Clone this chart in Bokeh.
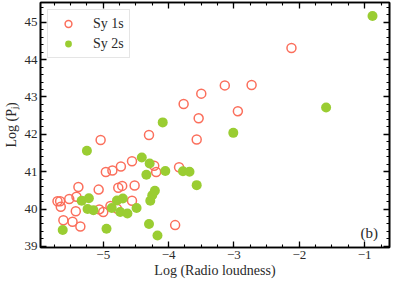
import numpy as np
from bokeh.plotting import figure
from bokeh.models import Range1d, LinearAxis, FixedTicker, Label, Legend, LegendItem
from bokeh.embed import file_html
from bokeh.resources import INLINE

# ---- data ----
sy1_x = [-5.04, -4.30, -4.96, -4.86, -4.73, -4.56, -4.22, -4.19, -3.84,
         -5.38, -5.07, -4.77, -4.71, -4.52, -5.52, -5.41, -5.70, -5.66,
         -5.65, -5.42, -5.06, -5.00, -4.89, -4.79, -4.56, -5.61, -5.47,
         -5.35, -3.90, -3.77, -3.57, -3.54, -3.50, -3.14, -2.73, -2.94, -2.12]
sy1_y = [41.85, 41.98, 40.99, 41.03, 41.14, 41.28, 41.16, 40.99, 41.12,
         40.59, 40.52, 40.57, 40.62, 40.63, 40.27, 40.33, 40.21, 40.21,
         40.06, 39.94, 39.99, 39.92, 40.08, 40.01, 40.22, 39.70, 39.66,
         39.53, 39.57, 42.81, 41.86, 42.43, 43.09, 43.31, 43.32, 42.62, 44.31]

sy2_x = [-5.25, -4.41, -4.29, -4.34, -4.05, -3.78, -3.68, -3.57, -5.33,
         -5.22, -5.24, -5.15, -4.87, -4.79, -4.70, -4.74, -4.63, -4.49,
         -4.28, -4.25, -4.21, -5.62, -4.95, -4.30, -4.17, -4.09, -3.01,
         -1.59, -0.88]
sy2_y = [41.56, 41.38, 41.22, 40.92, 41.02, 41.01, 41.00, 40.64, 40.22,
         40.29, 40.00, 39.97, 40.03, 40.23, 40.28, 39.92, 39.88, 40.03,
         40.22, 40.37, 40.49, 39.44, 39.47, 39.60, 39.29, 42.32, 42.04,
         42.72, 45.17]

series_labels = ["Sy 1s", "Sy 2s"]
x_ticks = [-5, -4, -3, -2, -1]
x_tick_labels = ["\u22125", "\u22124", "\u22123", "\u22122", "\u22121"]
y_ticks = [39, 40, 41, 42, 43, 44, 45]
y_tick_labels = ["39", "40", "41", "42", "43", "44", "45"]
x_label = "Log (Radio loudness)"
y_label = "Log (P\u2c7c)"
panel_tag = "(b)"

RED = "#fb6f5c"
GREEN = "#9acd32"
FONT = "Liberation Serif"
TXT = "#2a2a2a"

x_min, x_max = -5.96, -0.62
y_min, y_max = 38.97, 45.53

p = figure(width=393, height=280, output_backend="svg", toolbar_location=None,
           x_range=Range1d(x_min, x_max), y_range=Range1d(y_min, y_max),
           x_axis_location=None, y_axis_location=None,
           min_border_left=0, min_border_right=4, min_border_top=2, min_border_bottom=0)
p.grid.visible = False
p.outline_line_color = "black"
p.outline_line_width = 1.6
p.background_fill_color = "white"
p.border_fill_color = "white"

x_minor = list(np.arange(-6.0, -0.5, 0.25))
y_minor = list(np.round(np.arange(38.8, 45.8, 0.2), 2))


def make_axis(ticks, minor, labels, show_labels):
    ax = LinearAxis(ticker=FixedTicker(ticks=ticks, minor_ticks=minor))
    ax.major_tick_in = 6
    ax.major_tick_out = 0
    ax.minor_tick_in = 3
    ax.minor_tick_out = 0
    ax.major_tick_line_width = 1.3
    ax.minor_tick_line_width = 1.1
    ax.axis_line_color = "black"
    ax.axis_line_width = 1.6
    if show_labels:
        ax.major_label_overrides = {t: l for t, l in zip(ticks, labels)}
        ax.major_label_text_font = FONT
        ax.major_label_text_font_size = "13px"
        ax.major_label_text_color = TXT
        ax.major_label_standoff = 3
    else:
        ax.major_label_text_color = None
        ax.major_label_text_font_size = "1px"
        ax.major_label_standoff = 0
    return ax

bx = make_axis(x_ticks, x_minor, x_tick_labels, True)
bx.axis_label = x_label
bx.axis_label_text_font = FONT
bx.axis_label_text_font_size = "14px"
bx.axis_label_text_font_style = "normal"
bx.axis_label_text_color = TXT
bx.axis_label_standoff = 1
p.add_layout(bx, "below")

ly = make_axis(y_ticks, y_minor, y_tick_labels, True)
ly.axis_label = y_label
ly.axis_label_text_font = FONT
ly.axis_label_text_font_size = "14px"
ly.axis_label_text_font_style = "normal"
ly.axis_label_text_color = TXT
ly.axis_label_standoff = 3
p.add_layout(ly, "left")

p.add_layout(make_axis(x_ticks, x_minor, x_tick_labels, False), "above")
p.add_layout(make_axis(y_ticks, y_minor, y_tick_labels, False), "right")

r1 = p.scatter(sy1_x, sy1_y, size=9, marker="circle", fill_alpha=0,
               line_color=RED, line_width=1.5)
r2 = p.scatter(sy2_x, sy2_y, size=10, marker="circle", fill_color=GREEN,
               line_color=GREEN, line_width=0)

legend = Legend(items=[LegendItem(label=series_labels[0], renderers=[r1]),
                       LegendItem(label=series_labels[1], renderers=[r2])],
                location="top_left")
legend.margin = 7
legend.padding = 5
legend.spacing = 3
legend.glyph_width = 30
legend.glyph_height = 17
legend.label_height = 17
legend.label_standoff = 10
legend.label_text_font = FONT
legend.label_text_font_size = "14px"
legend.label_text_color = TXT
legend.border_line_color = "#cccccc"
legend.border_line_width = 1
legend.background_fill_alpha = 0.85
p.add_layout(legend, "center")

p.add_layout(Label(x=-0.93, y=39.35, text=panel_tag, text_align="center",
                   text_baseline="middle", text_font=FONT,
                   text_font_size="15px", text_color=TXT))

open("out.html", "w").write(file_html(p, INLINE))
